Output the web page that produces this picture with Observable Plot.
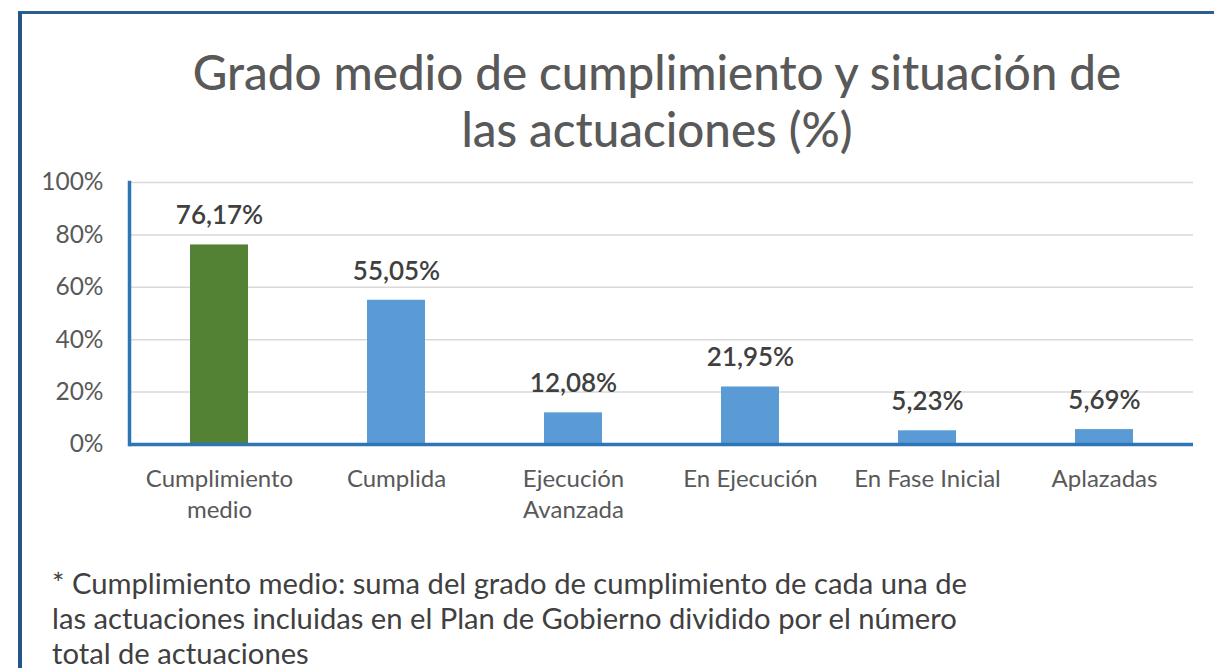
<!DOCTYPE html>
<html>
<head>
<meta charset="utf-8">
<script src="https://cdn.jsdelivr.net/npm/d3@7"></script>
<script src="https://cdn.jsdelivr.net/npm/@observablehq/plot@0.6"></script>
<style>
  html, body { margin: 0; padding: 0; background: #fff; width: 1214px; height: 668px; overflow: hidden; }
  #frame { position: absolute; left: 18px; top: 11px; width: 1200px; height: 670px;
           border-left: 4px solid #24568a; border-top: 3px solid #2c5e90; box-sizing: border-box; }
  #title { position: absolute; left: 100px; width: 1114px; top: 43px; text-align: center;
           font-family: Lato, sans-serif; font-size: 47.5px; font-weight: 500; line-height: 57px; color: #595959; }
  #chart { position: absolute; left: 0; top: 160px; }
  #note { position: absolute; left: 52px; top: 565px; font-family: Lato, sans-serif;
          font-size: 29.2px; line-height: 35px; color: #404040; white-space: nowrap; }
</style>
</head>
<body>
<div id="frame"></div>
<div id="title">Grado medio de cumplimiento y situación de<br>las actuaciones (%)</div>
<div id="chart"></div>
<div id="note">* Cumplimiento medio: suma del grado de cumplimiento de cada una de<br>las actuaciones incluidas en el Plan de Gobierno dividido por el número<br>total de actuaciones</div>
<script>
const categories = ["Cumplimiento\nmedio", "Cumplida", "Ejecución\nAvanzada", "En Ejecución", "En Fase Inicial", "Aplazadas"];
const values = [76.17, 55.05, 12.08, 21.95, 5.23, 5.69];
const valueLabels = ["76,17%", "55,05%", "12,08%", "21,95%", "5,23%", "5,69%"];
const barColors = ["#548235", "#5b9bd5", "#5b9bd5", "#5b9bd5", "#5b9bd5", "#5b9bd5"];
const yTicks = [0, 20, 40, 60, 80, 100];

const data = categories.map((c, i) => ({cat: c, v: values[i], label: valueLabels[i], color: barColors[i]}));

const chart = Plot.plot({
  width: 1214,
  height: 380,
  marginTop: 22,
  marginBottom: 96,
  marginLeft: 129,
  marginRight: 21,
  style: {fontFamily: "Lato, sans-serif", fontSize: "24px", color: "#595959", background: "transparent"},
  x: {domain: categories, paddingInner: 0.673, paddingOuter: 0.3365, label: null},
  y: {domain: [0, 100], label: null},
  marks: [
    Plot.gridY(yTicks, {stroke: "#d9d9d9", strokeOpacity: 1, strokeWidth: 1.5}),
    Plot.barY(data, {x: "cat", y: "v", fill: "color"}),
    Plot.ruleY([0], {stroke: "#2e75b6", strokeWidth: 3.5}),
    Plot.frame({anchor: "left", stroke: "#2e75b6", strokeWidth: 3.5}),
    Plot.axisY(yTicks, {tickSize: 0, tickPadding: 26, tickFormat: d => d + "%", fontSize: 24.5, fill: "#595959", label: null}),
    Plot.axisX({tickSize: 0, tickPadding: 20, fontSize: 24, fill: "#595959", lineHeight: 1.3, label: null, textAnchor: "middle"}),
    Plot.text(data, {x: "cat", y: "v", text: "label", dy: -29, fontSize: 26, fontWeight: 600, fill: "#404040"})
  ]
});
document.getElementById("chart").appendChild(chart);
</script>
</body>
</html>
